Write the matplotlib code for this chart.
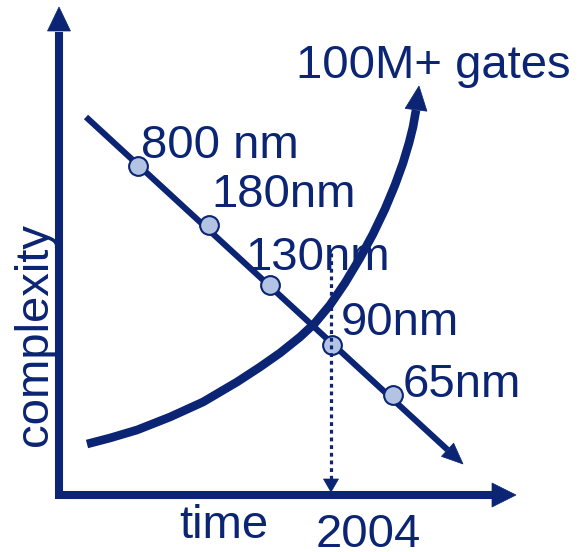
import matplotlib
matplotlib.use("Agg")
import matplotlib.pyplot as plt
from matplotlib.patches import Polygon
import numpy as np

NAVY = "#0B2473"
FILL = "#B3C3E3"

# ---- data (diagram coordinates, pixel-like units, y downward) ----
node_labels = ["800 nm", "180nm", "130nm", "90nm", "65nm"]
node_x = [138, 209, 270, 332, 393]
node_y = [166, 225, 285, 345, 395]
label_x = [141, 211, 245, 341, 403]
label_y = [158, 207, 270, 335, 397]

trend_start = (86, 117)
trend_end = (463, 464)

gates_x = [87, 110, 137, 170, 203, 237, 260, 280, 300, 315, 330, 345, 360, 373, 385,
           395, 403, 409, 413, 416]
gates_y = [444, 438, 430, 417, 402, 382, 367, 353, 337, 323, 305, 283, 258, 234, 209,
           185, 163, 143, 127, 110]
gates_tip = (419, 86)

year_label = "2004"
year_x = 331

fig = plt.figure(figsize=(5.78, 5.52), dpi=100)
ax = fig.add_axes([0, 0, 1, 1])
ax.set_xlim(0, 578)
ax.set_ylim(552, 0)
ax.axis("off")

FONT = "Liberation Sans"
FS = 34


def head(tip, frm, length, width, z=5):
    tip = np.asarray(tip, float)
    frm = np.asarray(frm, float)
    d = tip - frm
    d /= np.hypot(*d)
    n = np.array([-d[1], d[0]])
    base = tip - d * length
    pts = [tip, base + n * width / 2, base - n * width / 2]
    ax.add_patch(Polygon(pts, closed=True, facecolor=NAVY, edgecolor=NAVY, lw=0.5, zorder=z))
    return base


# axes
b = head((59, 7), (59, 495), 24, 23)
ax.plot([59, 59], [496, b[1] + 1], color=NAVY, lw=5.8, solid_capstyle="butt", zorder=4)
b = head((516, 495), (59, 495), 24, 24)
ax.plot([55, b[0] + 1], [495, 495], color=NAVY, lw=5.8, solid_capstyle="butt", zorder=4)

# trend line (feature size)
b = head(trend_end, trend_start, 21, 18)
ax.plot([trend_start[0], b[0]], [trend_start[1], b[1]], color=NAVY, lw=4.4,
        solid_capstyle="butt", zorder=3)

# gates curve
b = head(gates_tip, (gates_x[-1], gates_y[-1]), 24, 22)
ax.plot(gates_x, gates_y, color=NAVY, lw=6.2, solid_capstyle="butt",
        solid_joinstyle="round", zorder=3)

# nodes
ax.plot(node_x, node_y, "o", ms=13.5, mfc=FILL, mec=NAVY, mew=1.5, zorder=6)

# dotted year line
b = head((year_x, 492), (year_x, 253), 13, 15, z=7)
ax.plot([year_x, year_x], [253, b[1]], color=NAVY, lw=2.3, ls=(0, (1.2, 1.2)), zorder=7)

for t, x, y in zip(node_labels, label_x, label_y):
    ax.text(x, y, t, fontsize=FS, family=FONT, color=NAVY, ha="left", va="baseline", zorder=8)

ax.text(296, 78, "100M+ gates", fontsize=FS, family=FONT, color=NAVY, ha="left", va="baseline")
ax.text(179, 538, "time", fontsize=FS, family=FONT, color=NAVY, ha="left", va="baseline")
ax.text(316, 547, year_label, fontsize=FS, family=FONT, color=NAVY, ha="left", va="baseline")
ax.text(47, 446, "complexity", fontsize=FS, family=FONT, color=NAVY, rotation=90,
        rotation_mode="anchor", ha="left", va="baseline")

fig.savefig("out.png", dpi=100)
